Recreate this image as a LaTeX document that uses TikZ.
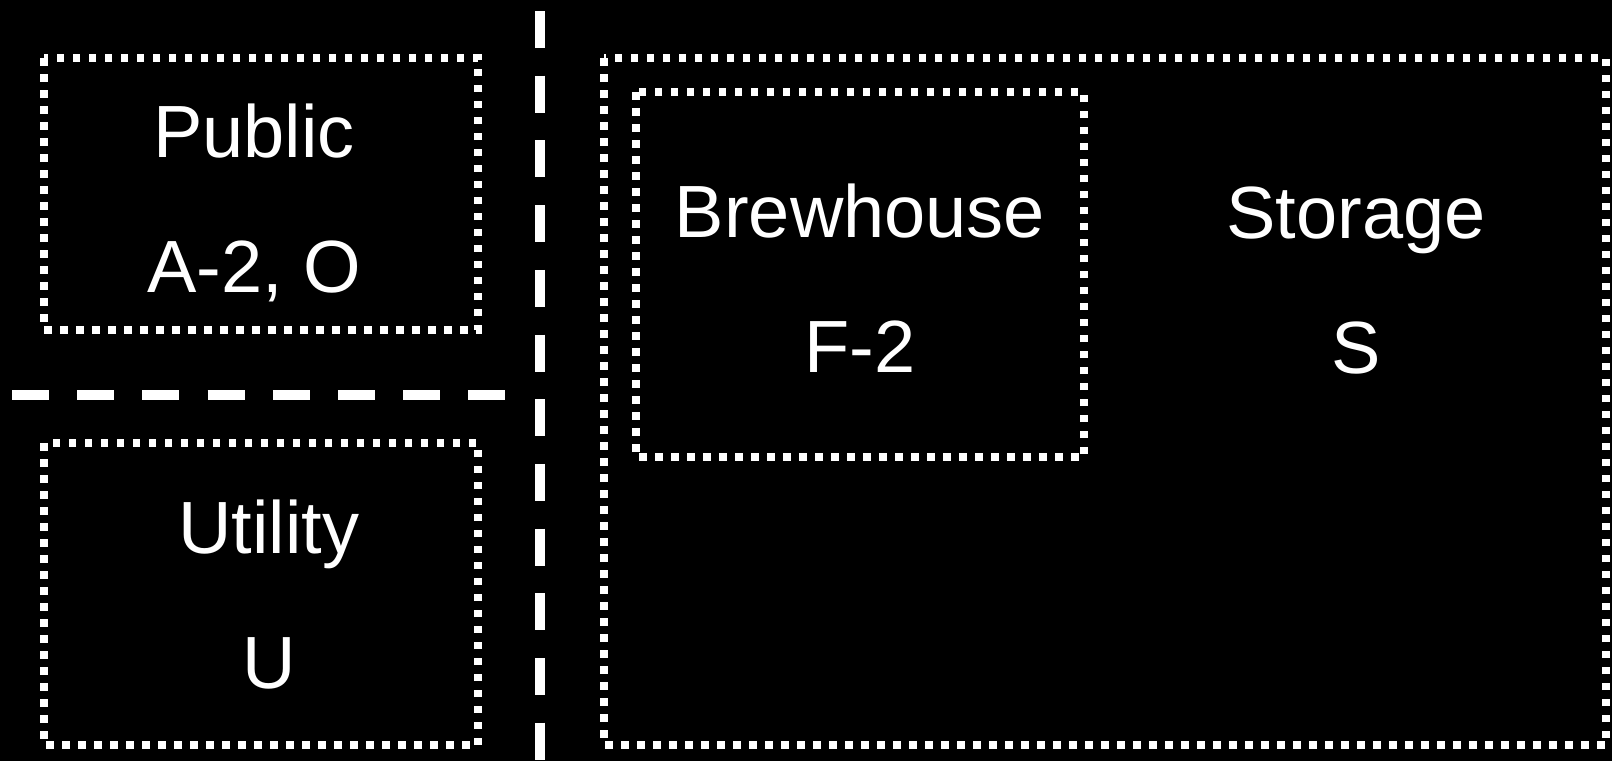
\documentclass[tikz,border=0pt]{standalone}
\usepackage{fontspec}
\setmainfont{Liberation Sans}
\usetikzlibrary{positioning}
\definecolor{planbg}{HTML}{000000}
\definecolor{planline}{HTML}{FFFFFF}

\begin{document}
\begin{tikzpicture}[
    x=1pt, y=-1pt,
    zonebox/.style={draw=planline, line width=7.5pt, line cap=butt, dash pattern=on 7.5pt off 8.5pt},
    zonesplit/.style={draw=planline, line width=9.3pt, line cap=butt, dash pattern=on 37pt off 28.2pt},
    zonename/.style={text=planline, font=\fontsize{74}{89}\selectfont, anchor=base, inner sep=0pt},
]

% Background and page size
\fill[planbg] (0,0) rectangle (1612,761);
\useasboundingbox (0,0) rectangle (1612,761);

% Dividing lines
\draw[zonesplit, dash pattern=on 37pt off 27.7pt] (540,11) -- (540,761);
\draw[zonesplit] (12,395) -- (507,395);

% Left zones
\draw[zonebox] (44,58) rectangle (478,330);
\node[zonename] (pubname) at (254,157) {Public};
\node[zonename] (pubcode) at ([yshift=-135pt] pubname.base) {A-2, O};

\draw[zonebox] (44,443) rectangle (478,745);
\node[zonename] (utilname) at (269,553) {Utility};
\node[zonename] (utilcode) at ([yshift=-135pt] utilname.base) {U};

% Right zone with brewhouse inside storage
\draw[zonebox] (604,58) rectangle (1606,745);
\draw[zonebox] (636,92) rectangle (1084,457);
\node[zonename] (brewname) at (860,237) {Brewhouse};
\node[zonename] (brewcode) at ([yshift=-135pt] brewname.base) {F-2};

\node[zonename] (storname) at (1356,238) {Storage};
\node[zonename] (storcode) at ([yshift=-135pt] storname.base) {S};

\end{tikzpicture}
\end{document}
